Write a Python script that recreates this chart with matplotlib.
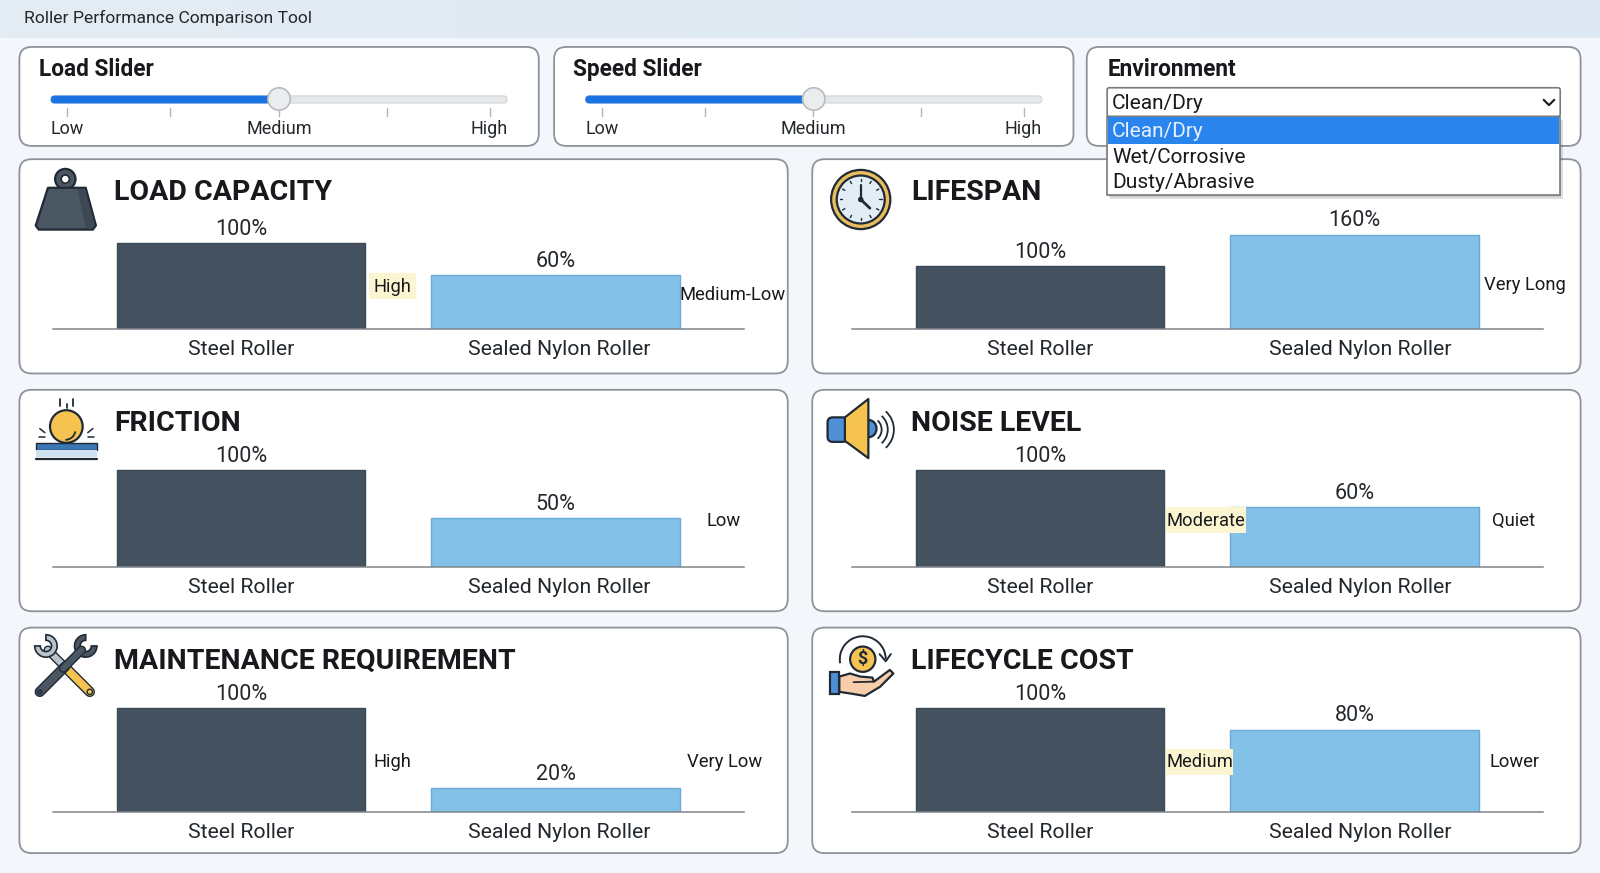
import numpy as np
import matplotlib
matplotlib.use("Agg")
import matplotlib.pyplot as plt
from matplotlib.patches import FancyBboxPatch, Rectangle, Circle, Polygon, Wedge, Arc, Ellipse

plt.rcParams['font.family'] = ['Roboto', 'DejaVu Sans']

# data
app_title = "Roller Performance Comparison Tool"
slider_titles = ["Load Slider", "Speed Slider"]
slider_labels = ["Low", "Medium", "High"]
env_title = "Environment"
env_options = ["Clean/Dry", "Wet/Corrosive", "Dusty/Abrasive"]
rollers = ["Steel Roller", "Sealed Nylon Roller"]
metrics = ["LOAD CAPACITY", "LIFESPAN", "FRICTION", "NOISE LEVEL",
           "MAINTENANCE REQUIREMENT", "LIFECYCLE COST"]
steel_values = [100, 100, 100, 100, 100, 100]
nylon_labels = [60, 160, 50, 60, 20, 80]
# drawn heights, they don't quite follow the labels
nylon_heights = [62, 151, 50.5, 62, 23.5, 79.5]
steel_notes = ["High", "", "", "Moderate", "High", "Medium"]
nylon_notes = ["Medium-Low", "Very Long", "Low", "Quiet", "Very Low", "Lower"]

# layout, in pixels of a 1568 wide view of the page
W, H = 1568, 855.5
panels = [(19, 156, 772, 366), (796, 156, 1549, 366),
          (19, 382, 772, 599), (796, 382, 1549, 599),
          (19, 615, 772, 836), (796, 615, 1549, 836)]
baselines = [322, 322, 556, 556, 796, 796]
px_per_100 = [84, 61, 95, 95, 102, 102]
steel_note_x = [385, 0, 0, 1182, 385, 1176]
nylon_note_x = [718, 1494, 709, 1483, 710, 1484]
note_y = [288, 278, 510, 510, 746, 746]
steel_note_y = [280, 0, 0, 510, 746, 746]
cream_spans = [(362, 408, 268, 293), None, None, (1143, 1221, 497, 522), None, (1143, 1208, 734, 759)]

INK = "#17191c"
BORDER = "#8d9399"
STEEL = "#44525f"
NYLON = "#84c1e8"
BLUE = "#1a73e0"
GOLD = "#f6c350"
DARK = "#1f2a36"

fig = plt.figure(figsize=(16, 8.73), dpi=100, facecolor="#f3f7fb")


def overlay(z):
    a = fig.add_axes([0, 0, 1, 1], zorder=z)
    a.set_xlim(0, W)
    a.set_ylim(H, 0)
    a.axis("off")
    a.patch.set_alpha(0)
    return a


def box(a, x0, y0, x1, y1, r=12, fc="white", ec=BORDER, lw=1.3, z=2):
    a.add_patch(FancyBboxPatch((x0 + r, y0 + r), x1 - x0 - 2 * r, y1 - y0 - 2 * r,
                               boxstyle="round,pad=%f,rounding_size=%f" % (r, r),
                               fc=fc, ec=ec, lw=lw, zorder=z))


bg = overlay(0)
bg.imshow(np.linspace(0, 1, 200).reshape(1, -1), extent=(0, W, 37, 0), aspect="auto",
          cmap=matplotlib.colors.LinearSegmentedColormap.from_list("hdr", ["#e4ecf4", "#dde8f3"]))
bg.set_xlim(0, W)
bg.set_ylim(H, 0)
bg.text(24, 18, app_title, fontsize=12.6, color="#23282d", va="center")
notes = overlay(1.5)

# sliders
for i, name in enumerate(slider_titles):
    dx = 524 * i
    box(bg, 19 + dx, 46, 528 + dx, 143)
    bg.text(38 + dx, 68.5, name, fontsize=16.3, fontweight="bold", color=INK, va="center")
    box(bg, 50 + dx, 94, 497 + dx, 101, r=3.5, fc="#e6e7e8", ec="#d3d5d7", lw=0.8)
    box(bg, 50 + dx, 94, 272 + dx, 101, r=3.5, fc=BLUE, ec=BLUE, lw=0.5, z=3)
    bg.add_patch(Circle((273.5 + dx, 97), 11, fc="#ebeced", ec="#b8bbbe", lw=1.2, zorder=4))
    for t in [66, 167, 273, 379, 480]:
        bg.plot([t + dx, t + dx], [106, 114], color="#b5b8bb", lw=1, zorder=2)
    for lab, t in zip(slider_labels, [66, 273.5, 479]):
        bg.text(t + dx, 126, lab, fontsize=13, color="#23282d", ha="center", va="center")

# environment box
box(bg, 1065, 46, 1549, 143)
bg.text(1085, 68.5, env_title, fontsize=16.3, fontweight="bold", color=INK, va="center")

# metric panels and their bars
for i, p in enumerate(panels):
    box(bg, p[0], p[1], p[2], p[3])
    bg.text(p[0] + (93 if i % 2 == 0 else 97), p[1] + 33, metrics[i],
            fontsize=20.5, fontweight="bold", color=INK, va="center")

    left = p[0] + (33 if i % 2 == 0 else 39)
    scale = px_per_100[i] / 100.0
    ymax = 170.0
    top = baselines[i] - ymax * scale
    ax = fig.add_axes([left / W, 1 - baselines[i] / H, 677.5 / W, (baselines[i] - top) / H], zorder=1)
    ax.patch.set_alpha(0)
    heights = [steel_values[i], nylon_heights[i]]
    labels = [steel_values[i], nylon_labels[i]]
    ax.bar([0, 1], heights, width=0.79, color=[STEEL, NYLON], edgecolor=["#3b4a57", "#6ba9d9"], linewidth=1)
    ax.set_xlim(-0.597, 1.6)
    ax.set_ylim(0, ymax)
    for s in ["top", "left", "right"]:
        ax.spines[s].set_visible(False)
    ax.spines["bottom"].set_color("#80858a")
    ax.spines["bottom"].set_linewidth(1.1)
    ax.set_yticks([])
    ax.set_xticks([0, 1.013 if i % 2 == 0 else 1.018])
    ax.set_xticklabels(rollers, fontsize=15.3, color="#23282d")
    ax.tick_params(axis="x", length=0, pad=8)
    for x, h, v in zip([0, 1], heights, labels):
        ax.annotate("%d%%" % v, (x, h), xytext=(0, 9.8), textcoords="offset points",
                    ha="center", va="center", fontsize=15.5, color="#23282d")
    if cream_spans[i]:
        x0, x1, y0, y1 = cream_spans[i]
        notes.add_patch(Rectangle((x0, y0), x1 - x0, y1 - y0, fc="#fcf5d2", ec="none", zorder=4))
    if steel_notes[i]:
        notes.text(steel_note_x[i], steel_note_y[i] + 1, steel_notes[i], fontsize=13.2, color=INK,
                   ha="center", va="center", zorder=5)
    notes.text(nylon_note_x[i], note_y[i] + 1, nylon_notes[i], fontsize=13.2, color=INK,
               ha="center", va="center", zorder=5)

# dropdown sits over the lifespan panel
top = overlay(3)
top.add_patch(Rectangle((1088, 118), 444, 77, fc="#000000", alpha=0.13, ec="none"))
top.add_patch(Rectangle((1086, 116), 444, 77, fc="#000000", alpha=0.10, ec="none"))
box(top, 1085, 86, 1529, 114, r=2, ec="#777b80", lw=1.2)
top.text(1090, 101, env_options[0], fontsize=15, color=INK, va="center")
top.plot([1513, 1518, 1523], [98, 103, 98], color=INK, lw=1.5, zorder=5)
top.add_patch(Rectangle((1085, 115), 444, 76, fc="white", ec="#777b80", lw=1.2, zorder=3))
top.add_patch(Rectangle((1086, 115), 442, 26, fc="#2a84ee", ec="none", zorder=4))
for lab, y, col in zip(env_options, [129, 154, 179], ["#e4f0fd", INK, INK]):
    top.text(1090, y, lab, fontsize=15, color=col, va="center", zorder=5)

# icons
ic = overlay(2)
LW = 1.6


def poly(pts, fc, ec=DARK, lw=LW, z=3):
    ic.add_patch(Polygon(pts, closed=True, fc=fc, ec=ec, lw=lw, zorder=z, joinstyle="round"))


def line(xs, ys, col=DARK, lw=LW, z=4):
    ic.plot(xs, ys, color=col, lw=lw, zorder=z, solid_capstyle="round")


# weight
ic.add_patch(Circle((64, 175.5), 10, fc="#4a5763", ec=DARK, lw=LW, zorder=3))
ic.add_patch(Circle((64, 175.5), 4, fc="white", ec=DARK, lw=1.2, zorder=4))
poly([(47, 184), (84, 184), (94, 221), (91, 225), (38, 225), (35, 221)], "#4a5763")
poly([(76, 185), (83, 185), (93, 221), (90, 224), (84, 224)], "#3c4853", ec="none")

# clock
ic.add_patch(Circle((843.5, 195.5), 29, fc="#e9bd5c", ec=DARK, lw=LW, zorder=3))
ic.add_patch(Circle((843.5, 195.5), 23.5, fc="#e3edf6", ec=DARK, lw=LW, zorder=3))
for a in np.arange(0, 360, 30):
    r = np.radians(a)
    line([843.5 + 18 * np.sin(r), 843.5 + 20.5 * np.sin(r)],
         [195.5 - 18 * np.cos(r), 195.5 - 20.5 * np.cos(r)], lw=1)
line([843.5, 843.5], [195.5, 181], lw=1.6)
line([843.5, 852.5], [195.5, 204], lw=2)
ic.add_patch(Circle((843.5, 195.5), 2, fc=DARK, ec=DARK, zorder=5))

# friction
ic.add_patch(Circle((65, 418), 16, fc=GOLD, ec=DARK, lw=LW, zorder=4))
ic.add_patch(Arc((64, 421), 20, 20, theta1=10, theta2=90, color=DARK, lw=1.3, zorder=5))
ic.add_patch(Rectangle((35, 434), 60, 7, fc="#3c77b5", ec=DARK, lw=1, zorder=3))
ic.add_patch(Rectangle((35, 441), 60, 7, fc="#cfe1f0", ec="none", zorder=3))
line([35, 95], [449.5, 449.5], lw=1.6)
for x, y0, y1 in [(59, 391, 398), (66, 396, 400), (72, 391, 398)]:
    line([x, x], [y0, y1], lw=1.3)
line([38, 44], [428, 428], lw=1.1)
line([86, 92], [428, 428], lw=1.1)
line([39, 44], [420, 424], lw=1.1)
line([91, 86], [420, 424], lw=1.1)

# speaker
ic.add_patch(Ellipse((851, 420), 16, 17, fc="#4f8fd6", ec=DARK, lw=LW, zorder=3))
ic.add_patch(FancyBboxPatch((814, 412), 14, 18, boxstyle="round,pad=3,rounding_size=5",
                            fc="#4f8fd6", ec=DARK, lw=LW, zorder=3))
poly([(828, 409), (851, 391), (851, 449), (828, 432)], GOLD, z=4)
for r in [12, 18, 24]:
    ic.add_patch(Arc((852, 421), 2 * r, 2 * r, theta1=-48, theta2=48, color=DARK, lw=1.3, zorder=3))

# tools
line([39, 64], [678, 653], DARK, 7.5)
line([39, 64], [678, 653], "#4a5763", 5.5)
line([88, 62], [678, 652], DARK, 7.5, 3)
line([88, 62], [678, 652], GOLD, 5.5, 3)
line([63, 47], [653, 637], DARK, 6.5, 3)
line([63, 47], [653, 637], "#b9c3cc", 4.5, 3)
ic.add_patch(Wedge((45, 633), 11, 270, 180, width=5.5, fc="#b9c3cc", ec=DARK, lw=1.2, zorder=3))
ic.add_patch(Wedge((84, 633), 11, 0, 270, width=5.5, fc="#4a5763", ec=DARK, lw=1.2, zorder=5))
line([62, 80], [655, 637], DARK, 6.5, 5)
line([62, 80], [655, 637], "#4a5763", 4.5, 5)
ic.add_patch(Circle((88, 678), 2.6, fc=GOLD, ec=DARK, lw=1, zorder=6))
ic.add_patch(Circle((39, 678), 1.8, fc="#4a5763", ec=DARK, lw=1, zorder=6))

# coin and hand
ic.add_patch(Circle((845.5, 646), 12.4, fc=GOLD, ec=DARK, lw=LW, zorder=3))
ic.text(845.5, 646, "$", fontsize=13, fontweight="bold", color=DARK, ha="center", va="center", zorder=4)
ic.add_patch(Arc((845.5, 646), 45, 45, theta1=170, theta2=360, color=DARK, lw=1.4, zorder=3))
line([862, 868, 873], [641, 648, 641], lw=1.4)
poly([(822.5, 663), (833, 660), (843, 663), (855, 664), (856.5, 668), (872, 656.5), (875.5, 660),
      (862.5, 673), (847.5, 682), (836, 680), (822.5, 678)], "#f8cda9")
line([836.5, 856], [668.5, 668], lw=1.3)
ic.add_patch(Rectangle((813, 658.5), 9.5, 21.5, fc="#4f8fd6", ec=DARK, lw=LW, zorder=4))

fig.savefig("out.png", dpi=100)
